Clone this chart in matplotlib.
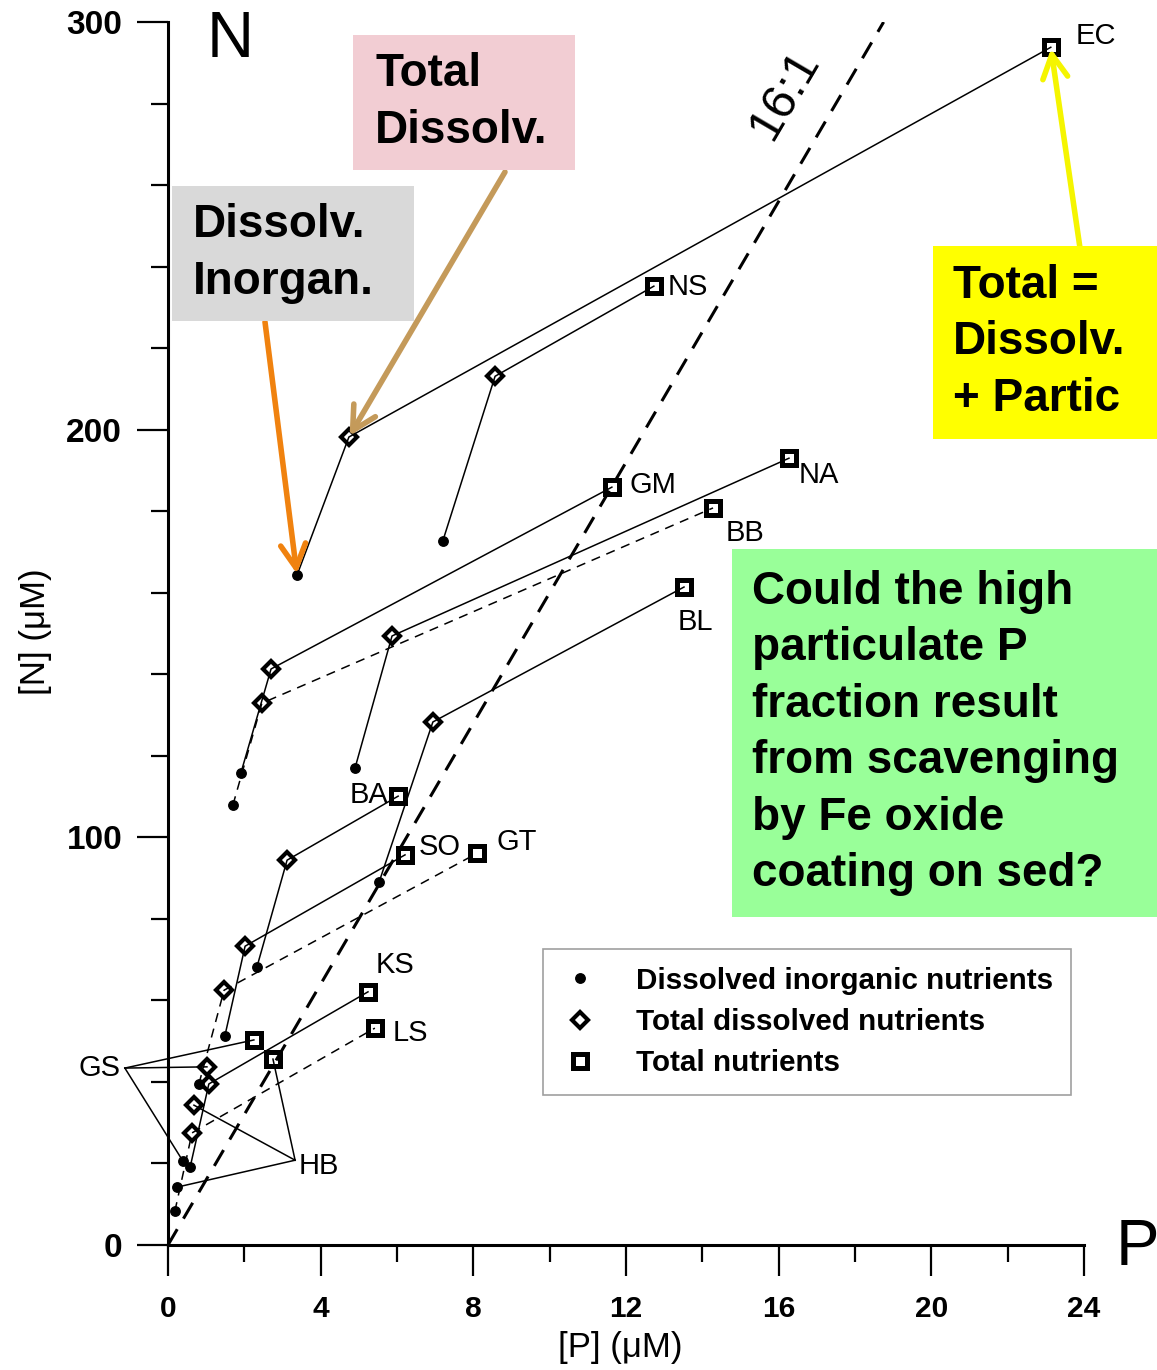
import numpy as np
import matplotlib
matplotlib.use("Agg")
import matplotlib.pyplot as plt
from matplotlib.lines import Line2D
from matplotlib.patches import Rectangle

plt.rcParams['font.family'] = ['Liberation Sans', 'DejaVu Sans']

W, H = 1157, 1370

# stations, each with dissolved inorganic, total dissolved and total (P, N) in uM
stations = ['EC', 'NS', 'GM', 'NA', 'BB', 'BL', 'BA', 'SO', 'GT', 'KS', 'LS', 'GS', 'HB']
din_p = [3.38, 7.20, 1.91, 4.90, 1.70, 5.53, 2.33, 1.49, 0.81, 0.58, 0.18, 0.39, 0.24]
din_n = [164.3, 172.7, 115.8, 117.0, 107.9, 89.0, 68.2, 51.3, 39.5, 19.1, 8.3, 20.6, 14.2]
tdn_p = [4.74, 8.57, 2.70, 5.87, 2.46, 6.94, 3.12, 2.02, 1.47, 1.07, 0.63, 1.02, 0.68]
tdn_n = [198.2, 213.1, 141.3, 149.4, 132.9, 128.3, 94.4, 73.3, 62.5, 39.5, 27.5, 43.7, 34.3]
tot_p = [23.13, 12.73, 11.63, 16.27, 14.28, 13.52, 6.03, 6.21, 8.10, 5.24, 5.42, 2.25, 2.75]
tot_n = [293.8, 235.2, 185.9, 193.0, 180.8, 161.4, 110.1, 95.7, 96.1, 62.1, 53.2, 50.3, 45.6]
link_style = ['-', '-', '-', '-', '--', '-', '-', '-', '--', '-', '--', None, None]

legend_labels = ['Dissolved inorganic nutrients', 'Total dissolved nutrients', 'Total nutrients']
redfield = 16.0

# station label offsets from the total-nutrient square (pixels) and alignment
label_offsets = {
    'EC': (25, 11, 'left'), 'NS': (14, -1, 'left'), 'GM': (18, 2, 'left'),
    'NA': (10, -17, 'left'), 'BB': (13, -25, 'left'), 'BL': (-6, -35, 'left'),
    'BA': (-10, 1, 'right'), 'SO': (14, 8, 'left'), 'GT': (19, 11, 'left'),
    'KS': (8, 27, 'left'), 'LS': (18, -5, 'left'),
}
# GS and HB are labelled with leader lines
leader_origin = {'GS': (-1.13, 43.4, 'right', -4, 0), 'HB': (3.33, 20.8, 'left', 4, -6)}


def fxy(x, y):
    return x / W, 1 - y / H


fig = plt.figure(figsize=(W / 100, H / 100), dpi=100)
ax = fig.add_axes([168 / W, 1 - 1245 / H, 916 / W, 1223 / H])
ax.set_xlim(0, 24)
ax.set_ylim(0, 300)

# 16:1 line
ax.plot([0, 300 / redfield], [0, 300], color='k', lw=2.2, dashes=(6, 4), zorder=2)
ax.text(16.16, 282.1, '16:1', fontsize=35, rotation=59.6, rotation_mode='anchor',
        ha='center', va='center')

for i, name in enumerate(stations):
    if link_style[i] is None:
        continue
    kw = dict(color='k', lw=1.1, zorder=2)
    if link_style[i] == '--':
        kw['dashes'] = (6, 4.5)
    ax.plot([din_p[i], tdn_p[i], tot_p[i]], [din_n[i], tdn_n[i], tot_n[i]], **kw)

for name, (lx, ly, ha, dx, dy) in leader_origin.items():
    i = stations.index(name)
    for qx, qy in [(din_p[i], din_n[i]), (tdn_p[i], tdn_n[i]), (tot_p[i], tot_n[i])]:
        ax.plot([lx, qx], [ly, qy], color='k', lw=1.1, clip_on=False, zorder=2)
    ax.annotate(name, (lx, ly), xytext=(dx, dy), textcoords='offset pixels',
                ha=ha, va='center', fontsize=21, annotation_clip=False)

dot_kw = dict(ls='none', marker='o', ms=6.8, color='k')
dia_kw = dict(ls='none', marker='D', ms=8.6, mfc='none', mec='k', mew=3.0)
sq_kw = dict(ls='none', marker='s', ms=9.8, mfc='none', mec='k', mew=3.6)
ax.plot(din_p, din_n, zorder=3, clip_on=False, **dot_kw)
ax.plot(tdn_p, tdn_n, zorder=3, clip_on=False, **dia_kw)
ax.plot(tot_p, tot_n, zorder=3, clip_on=False, **sq_kw)

for name, (dx, dy, ha) in label_offsets.items():
    i = stations.index(name)
    ax.annotate(name, (tot_p[i], tot_n[i]), xytext=(dx, dy), textcoords='offset pixels',
                ha=ha, va='center', fontsize=21, annotation_clip=False)

# axes styling
for side in ['top', 'right']:
    ax.spines[side].set_visible(False)
for side in ['left', 'bottom']:
    ax.spines[side].set_linewidth(2.2)
ax.set_xticks(np.arange(0, 25, 4))
ax.set_xticks(np.arange(2, 24, 4), minor=True)
ax.set_yticks([0, 100, 200, 300])
ax.set_yticks([v for v in range(20, 300, 20) if v % 100], minor=True)
ax.tick_params(which='major', direction='out', length=22, width=1.6)
ax.tick_params(which='minor', direction='out', length=12, width=1.6)
ax.tick_params(axis='y', which='major', pad=11, labelsize=24)
ax.tick_params(axis='x', which='major', pad=14, labelsize=21.5)
for lbl in ax.get_xticklabels() + ax.get_yticklabels():
    lbl.set_fontweight('bold')

fig.text(*fxy(35, 632), '[N] (\u03bcM)', rotation=90, ha='center', va='center', fontsize=25)
fig.text(*fxy(620, 1348), '[P] (\u03bcM)', ha='center', va='center', fontsize=25)
fig.text(*fxy(230, 40), 'N', ha='center', va='center', fontsize=47)
fig.text(*fxy(1137, 1248), 'P', ha='center', va='center', fontsize=47)

# legend
handles = [Line2D([], [], **dot_kw), Line2D([], [], **dia_kw), Line2D([], [], **sq_kw)]
leg = ax.legend(handles, legend_labels, loc='upper left', bbox_to_anchor=fxy(543, 949),
                bbox_transform=fig.transFigure, frameon=True, fancybox=False,
                edgecolor='#888888', prop=dict(weight='bold', size=21.3), borderaxespad=0,
                borderpad=0.6, handlelength=1.3, handletextpad=1.25, labelspacing=0.45)
leg.get_frame().set_linewidth(1.2)

# call-out boxes
boxes = [
    (353, 35, 575, 170, '#f2cdd3', 'Total\nDissolv.', 375),
    (172, 186, 414, 321, '#d9d9d9', 'Dissolv.\nInorgan.', 193),
    (933, 246, 1157, 439, '#ffff00', 'Total =\nDissolv.\n+ Partic', 953),
    (732, 549, 1157, 917, '#99ff99',
     'Could the high\nparticulate P\nfraction result\nfrom scavenging\nby Fe oxide\ncoating on sed?', 752),
]
for x0, y0, x1, y1, color, text, tx in boxes:
    fig.add_artist(Rectangle(fxy(x0, y1), (x1 - x0) / W, (y1 - y0) / H,
                             transform=fig.transFigure, facecolor=color, edgecolor='none', zorder=3))
    fig.text(*fxy(tx, (y0 + y1) / 2), text, ha='left', va='center', fontsize=33,
             fontweight='bold', linespacing=1.37, zorder=4)

# arrows from the boxes to the EC points
arrows = [
    ((265, 322), (din_p[0], din_n[0]), '#f0820f'),
    ((505, 172), (tdn_p[0], tdn_n[0]), '#c49a5a'),
    ((1080, 248), (tot_p[0], tot_n[0]), '#f5f500'),
]
for start, end, color in arrows:
    ax.annotate('', xy=end, xycoords='data', xytext=fxy(*start), textcoords='figure fraction',
                arrowprops=dict(arrowstyle='->,head_length=0.85,head_width=0.45', color=color,
                                lw=4, shrinkA=0, shrinkB=1, mutation_scale=20),
                annotation_clip=False, zorder=5)

fig.savefig('out.png', dpi=100)
